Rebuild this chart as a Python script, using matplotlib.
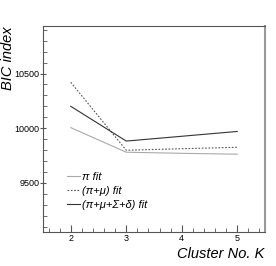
import matplotlib
matplotlib.use('Agg')
import matplotlib.pyplot as plt
from matplotlib.ticker import MultipleLocator

plt.rcParams['font.family'] = ['Liberation Sans', 'DejaVu Sans']

# BIC index vs. number of clusters
clusters = [2, 3, 4, 5]
bic_pi = [10005, 9780, 9770, 9762]
bic_pi_mu = [10420, 9798, 9812, 9825]
bic_all = [10200, 9882, 9926, 9970]
labels = ['\u03c0 fit', '(\u03c0+\u03bc) fit', '(\u03c0+\u03bc+\u03a3+\u03b4) fit']

fig = plt.figure(figsize=(2.76, 2.66), dpi=100)
ax = fig.add_axes([43 / 276, 34 / 266, 222 / 276, 206 / 266])

ax.plot(clusters, bic_pi, color='#aaaaaa', lw=0.8, label=labels[0])
ax.plot(clusters, bic_pi_mu, color='#555555', lw=0.8, ls=(0, (1.5, 1.5)), label=labels[1])
ax.plot(clusters, bic_all, color='#333333', lw=0.8, label=labels[2])

ax.set_xlim(1.5, 5.5)
ax.set_ylim(9050, 10935)
ax.xaxis.set_major_locator(MultipleLocator(1))
ax.xaxis.set_minor_locator(MultipleLocator(0.2))
ax.yaxis.set_major_locator(MultipleLocator(500))
ax.yaxis.set_minor_locator(MultipleLocator(100))
ax.tick_params(which='major', direction='inout', length=5, width=0.8, labelsize=6.5,
               color='#555555', pad=0)
ax.tick_params(which='minor', direction='in', length=3, width=0.6, color='#555555')
ax.tick_params(axis='x', which='major', direction='in', length=5, pad=1.5)

for side in ['left', 'top', 'bottom']:
    ax.spines[side].set_color('#555555')
    ax.spines[side].set_linewidth(0.8)
ax.spines['right'].set_color('#999999')
ax.spines['right'].set_linewidth(1.5)

fig.text(8 / 276, 1 - 26 / 266, 'BIC index', fontsize=10.5, style='italic',
         rotation=90, ha='center', va='top')
fig.text(264 / 276, 1 - 258 / 266, 'Cluster No. K', fontsize=10.5, style='italic',
         ha='right', va='baseline')

leg = ax.legend(loc='lower left', bbox_to_anchor=(0.09, 0.085), frameon=False,
                fontsize=8, handlelength=1.1, handletextpad=0.2, labelspacing=0.35,
                borderaxespad=0)
for t in leg.get_texts():
    t.set_style('italic')

fig.savefig('out.png', dpi=100)
